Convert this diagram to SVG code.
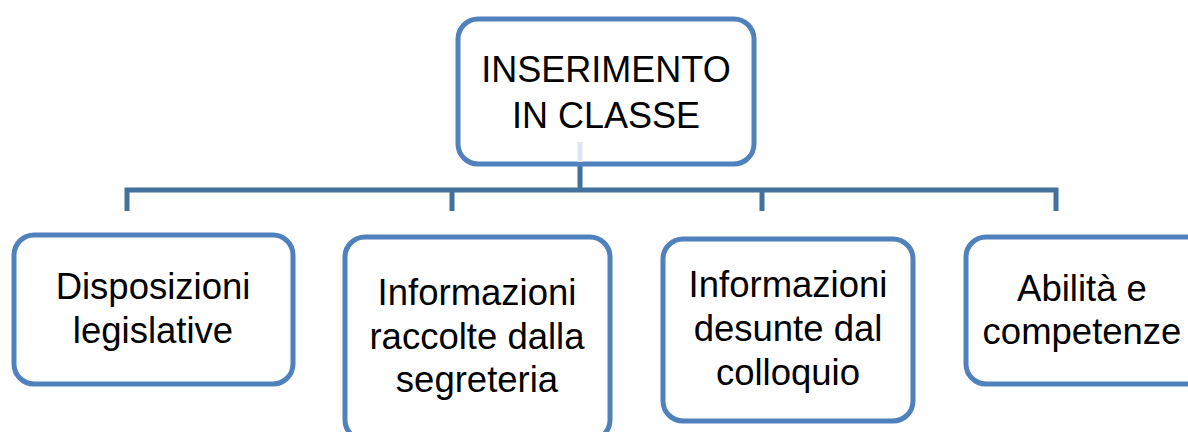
<svg xmlns="http://www.w3.org/2000/svg" width="1188" height="432" viewBox="0 0 1188 432">
<style>
.box{fill:#ffffff;stroke:#4F81BD;stroke-width:5}
.lbl{font-family:"Liberation Sans",Arial,sans-serif;fill:#000000;text-anchor:middle}
.top{font-size:36px}
.sub{font-size:36.5px}
.conn{stroke:#41719C;stroke-width:5;fill:none}
</style>
<rect width="1188" height="432" fill="#ffffff"/>
<g id="connectors">
<line class="conn" x1="580" y1="164" x2="580" y2="190"/>
<path class="conn" d="M127 211 V190 H1056 V211 M452 190 V211 M762 190 V211"/>
</g>
<g id="n0">
<rect class="box" x="458" y="19" width="296" height="145" rx="20"/>
<line x1="580" y1="142" x2="580" y2="162" stroke="#dfe6f0" stroke-width="5"/>
<text class="lbl top" x="606" y="82">INSERIMENTO</text>
<text class="lbl top" x="606" y="128">IN CLASSE</text>
</g>
<g id="n1">
<rect class="box" x="14" y="235" width="279" height="149" rx="20"/>
<text class="lbl sub" x="153" y="299">Disposizioni</text>
<text class="lbl sub" x="153" y="343">legislative</text>
</g>
<g id="n2">
<rect class="box" x="345" y="237" width="265" height="203" rx="20"/>
<text class="lbl sub" x="477" y="305">Informazioni</text>
<text class="lbl sub" x="477" y="349">raccolte dalla</text>
<text class="lbl sub" x="477" y="392">segreteria</text>
</g>
<g id="n3">
<rect class="box" x="663" y="239" width="250" height="182" rx="20"/>
<text class="lbl sub" x="788" y="297">Informazioni</text>
<text class="lbl sub" x="788" y="341">desunte dal</text>
<text class="lbl sub" x="788" y="385">colloquio</text>
</g>
<g id="n4">
<rect class="box" x="966" y="237" width="240" height="147" rx="20"/>
<text class="lbl sub" x="1082" y="301">Abilità e</text>
<text class="lbl sub" x="1082" y="344">competenze</text>
</g>
</svg>
